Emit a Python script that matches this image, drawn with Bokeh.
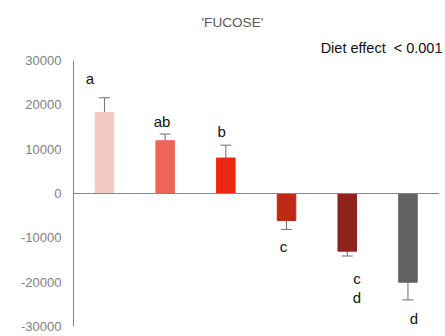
from bokeh.plotting import figure
from bokeh.models import (ColumnDataSource, Range1d, FixedTicker, Span, Whisker,
                          TeeHead, Title, LabelSet)
from bokeh.core.properties import value
from bokeh.embed import file_html
from bokeh.resources import INLINE

# ---- data ----
groups = [0, 1, 2, 3, 4, 5]
means = [18300, 11900, 8000, -6100, -13000, -20000]
errors = [3300, 1500, 2900, 2000, 1100, 4000]
colors = ["#F2C9C3", "#EC6657", "#EE2712", "#BF2915", "#8D231A", "#626262"]

letter_texts = ["a", "ab", "b", "c", "c", "d", "d"]
letter_group = [0, 1, 2, 3, 4, 4, 5]
letter_dx = [-0.24, -0.05, -0.07, -0.05, 0.16, 0.16, 0.10]
letter_y = [26000, 16300, 14000, -11900, -19100, -23400, -28150]

y_ticks = [-30000, -20000, -10000, 0, 10000, 20000, 30000]
y_tick_labels = ["-30000", "-20000", "-10000", "0", "10000", "20000", "30000"]

title_text = "'FUCOSE'"
note_text = "Diet effect\u00a0\u00a0< 0.001"

# ---- figure ----
W, H = 445, 336
p = figure(width=W, height=H, output_backend="svg", toolbar_location=None,
           title=None,
           x_range=Range1d(-0.51, 5.52), y_range=Range1d(-30000, 30000),
           min_border_left=73, min_border_right=6, min_border_top=60,
           min_border_bottom=10)
p.outline_line_color = None
p.xgrid.visible = False
p.ygrid.visible = False
p.xaxis.visible = False

ax = p.yaxis[0]
ax.ticker = FixedTicker(ticks=y_ticks)
ax.major_label_overrides = {t: s for t, s in zip(y_ticks, y_tick_labels)}
ax.major_tick_line_color = None
ax.minor_tick_line_color = None
ax.major_tick_out = 0
ax.major_tick_in = 0
ax.major_label_standoff = 12
ax.axis_line_color = "#868686"
ax.major_label_text_color = "#7F7F7F"
ax.major_label_text_font = "Liberation Sans"
ax.major_label_text_font_size = "13px"

src = ColumnDataSource(dict(x=groups, top=means, color=colors,
                            upper=[m + e for m, e in zip(means, errors)],
                            lower=[m - e for m, e in zip(means, errors)]))
p.vbar(x="x", top="top", bottom=0, width=0.305, fill_color="color",
       line_color="color", source=src)

p.add_layout(Span(location=0, dimension="width", line_color="#868686", line_width=1))

wh = Whisker(base="x", upper="upper", lower="lower", source=src,
             line_color="#6E6E6E", line_width=1,
             upper_head=TeeHead(size=11, line_color="#6E6E6E", line_width=1),
             lower_head=TeeHead(size=11, line_color="#6E6E6E", line_width=1))
p.add_layout(wh)

lsrc = ColumnDataSource(dict(x=[g + d for g, d in zip(letter_group, letter_dx)],
                             y=letter_y, t=letter_texts))
p.add_layout(LabelSet(x="x", y="y", text="t", source=lsrc, text_align="center",
                      text_baseline="middle", text_color="#111111",
                      text_font=value("Liberation Sans"), text_font_size="15px"))

note = Title(text=note_text, align="right", offset=-3, standoff=9,
             text_color="#111111", text_font="Liberation Sans",
             text_font_size="14.5px", text_font_style="normal")
ttl = Title(text=title_text, align="left", offset=128, standoff=8,
            text_color="#595959", text_font="Liberation Sans",
            text_font_size="13.6px", text_font_style="normal")
p.add_layout(note, "above")
p.add_layout(ttl, "above")

open("out.html", "w").write(file_html(p, INLINE))
